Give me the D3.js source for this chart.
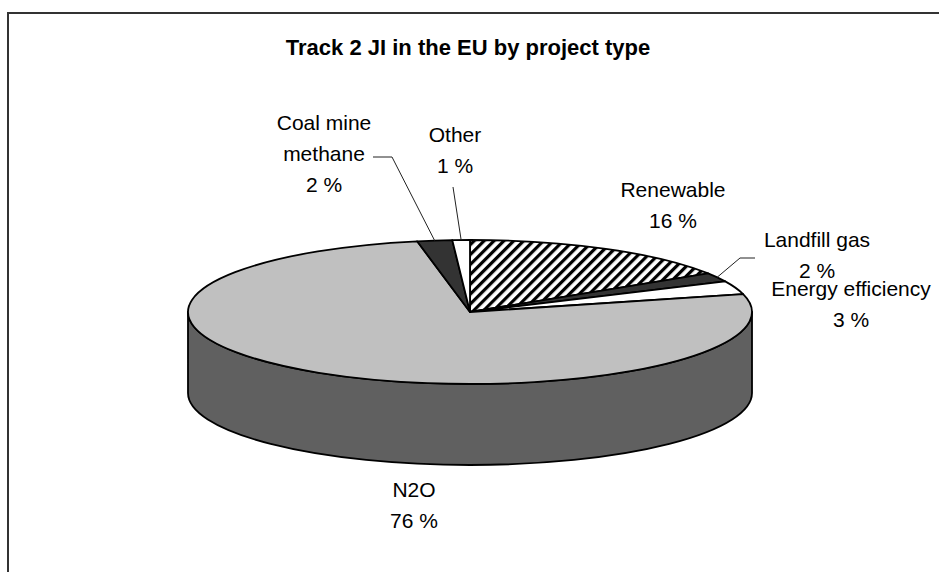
<!DOCTYPE html>
<html>
<head>
<meta charset="utf-8">
<script src="https://cdn.jsdelivr.net/npm/d3@7"></script>
<style>
  body { margin: 0; background: #fff; }
  svg { display: block; }
</style>
</head>
<body>
<svg id="chart" width="939" height="572"></svg>
<script>
// Project types, share of Track 2 JI projects (%)
const categories = ["Renewable", "Landfill gas", "Energy efficiency", "N2O", "Coal mine methane", "Other"];
const shares = [16, 2, 3, 76, 2, 1];
const labelLines = [["Renewable"], ["Landfill gas"], ["Energy efficiency"], ["N2O"], ["Coal mine", "methane"], ["Other"]];
const titleText = "Track 2 JI in the EU by project type";

// Fills for the top face and for the visible side wall of each slice
const topFills = ["url(#hatch)", "#333333", "#ffffff", "#c0c0c0", "#333333", "#ffffff"];
const sideFills = ["#4a4a4a", "#1a1a1a", "#9a9a9a", "#606060", "#1a1a1a", "#9a9a9a"];

// Label placement: centre x, first baseline y, optional leader line start points
const labelLayout = [
  { x: 673, y: 197 },
  { x: 817, y: 247, leader: [[755, 258], [740, 258]] },
  { x: 851, y: 296 },
  { x: 414, y: 497 },
  { x: 324, y: 130, leader: [[373, 157], [392, 157]] },
  { x: 455, y: 142, leader: [[453, 187]] }
];

const W = 939, H = 572;
const cx = 470, cy = 312, rx = 282, ry = 72, depth = 81;
const lineH = 31;

const svg = d3.select("#chart");

// Diagonal hatch for the Renewable slice
const defs = svg.append("defs");
const pat = defs.append("pattern")
  .attr("id", "hatch")
  .attr("patternUnits", "userSpaceOnUse")
  .attr("width", 7).attr("height", 7)
  .attr("patternTransform", "rotate(45)");
pat.append("rect").attr("width", 7).attr("height", 7).attr("fill", "#ffffff");
pat.append("rect").attr("width", 3.2).attr("height", 7).attr("fill", "#000000");

// Chart frame
svg.append("rect")
  .attr("x", 8).attr("y", 13)
  .attr("width", W + 20).attr("height", H + 20)
  .attr("fill", "#ffffff")
  .attr("stroke", "#333333")
  .attr("stroke-width", 2);

svg.append("text")
  .attr("x", 468).attr("y", 55)
  .attr("text-anchor", "middle")
  .attr("font-family", "Liberation Sans, Arial, sans-serif")
  .attr("font-weight", "bold")
  .attr("font-size", 22)
  .text(titleText);

// Angles run clockwise from 12 o'clock, as d3.pie produces them
const pie = d3.pie().sort(null).value(d => d)(shares);

const pt = (a, dy = 0) => [cx + rx * Math.sin(a), cy - ry * Math.cos(a) + dy];

// Side wall: only the front half (angles between PI/2 and 3PI/2) is visible
const sideG = svg.append("g");
pie.forEach((p, i) => {
  const a0 = Math.max(p.startAngle, Math.PI / 2);
  const a1 = Math.min(p.endAngle, 3 * Math.PI / 2);
  if (a1 <= a0) return;
  const t0 = pt(a0), t1 = pt(a1), b0 = pt(a0, depth), b1 = pt(a1, depth);
  const large = (a1 - a0) > Math.PI ? 1 : 0;
  const d = `M${t0[0]},${t0[1]} L${b0[0]},${b0[1]} A${rx},${ry} 0 ${large} 1 ${b1[0]},${b1[1]} ` +
            `L${t1[0]},${t1[1]} A${rx},${ry} 0 ${large} 0 ${t0[0]},${t0[1]} Z`;
  sideG.append("path")
    .attr("d", d)
    .attr("fill", sideFills[i])
    .attr("stroke", "#000")
    .attr("stroke-width", 1.8)
    .attr("stroke-linejoin", "round");
});

// Top face slices
const topG = svg.append("g");
pie.forEach((p, i) => {
  const s = pt(p.startAngle), e = pt(p.endAngle);
  const large = (p.endAngle - p.startAngle) > Math.PI ? 1 : 0;
  const d = `M${cx},${cy} L${s[0]},${s[1]} A${rx},${ry} 0 ${large} 1 ${e[0]},${e[1]} Z`;
  topG.append("path")
    .attr("d", d)
    .attr("fill", topFills[i])
    .attr("stroke", "#000")
    .attr("stroke-width", 1.8)
    .attr("stroke-linejoin", "round");
});

// Labels and leader lines
const labelG = svg.append("g")
  .attr("font-family", "Liberation Sans, Arial, sans-serif")
  .attr("font-size", 21)
  .attr("fill", "#000");

pie.forEach((p, i) => {
  const L = labelLayout[i];
  if (L.leader) {
    const mid = (p.startAngle + p.endAngle) / 2;
    const pts = L.leader.concat([pt(mid)]);
    labelG.append("path")
      .attr("d", d3.line()(pts))
      .attr("fill", "none")
      .attr("stroke", "#222")
      .attr("stroke-width", 1);
  }
  const lines = labelLines[i].concat([`${shares[i]} %`]);
  const t = labelG.append("text")
    .attr("text-anchor", "middle");
  lines.forEach((ln, k) => {
    t.append("tspan")
      .attr("x", L.x)
      .attr("y", L.y + k * lineH)
      .text(ln);
  });
});
</script>
</body>
</html>
